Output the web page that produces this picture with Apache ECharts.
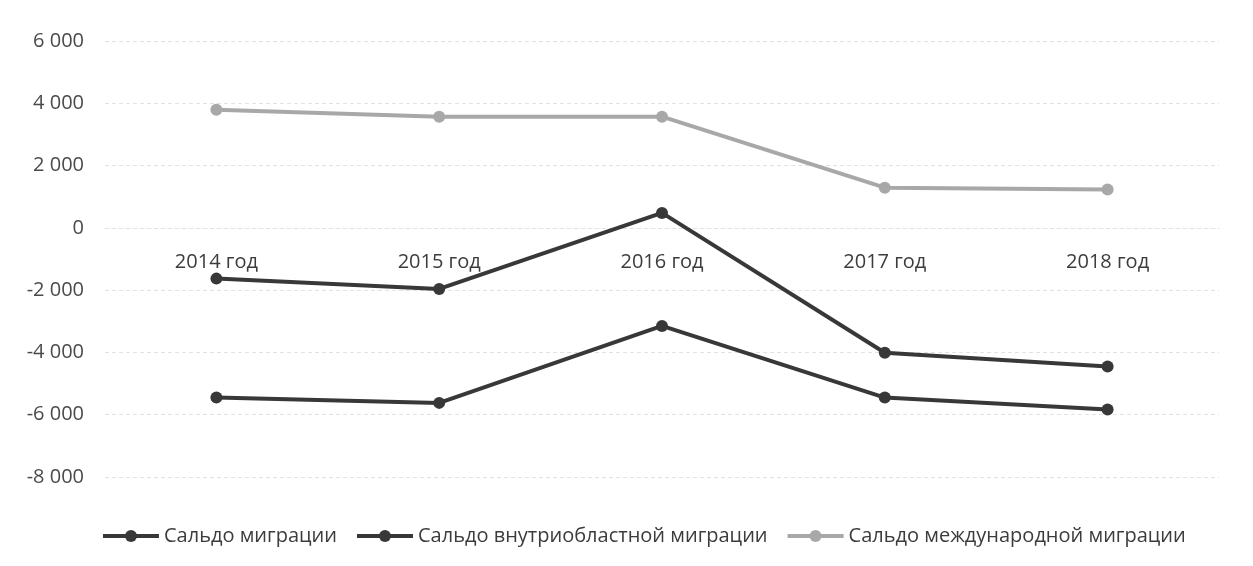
<!DOCTYPE html>
<html>
<head>
<meta charset="utf-8">
<script src="https://cdn.jsdelivr.net/npm/echarts@6/dist/echarts.min.js"></script>
<style>
    html, body {margin: 0; padding: 0; background: #fff;}
    #chart_id {width: 1253px; height: 566px;}
</style>
</head>
<body>
<div id="chart_id"></div>
<script>
//годы
var years = ['2014 год', '2015 год', '2016 год', '2017 год', '2018 год'];
//сальдо миграции
var totalValues = [-1630, -1960, 480, -4010, -4450];
//сальдо внутриобластной миграции
var internalValues = [-5450, -5620, -3150, -5450, -5830];
//сальдо международной миграции
var foreignValues = [3790, 3570, 3570, 1290, 1230];
//подписи легенды
var legendNames = ['Сальдо миграции', 'Сальдо внутриобластной миграции', 'Сальдо международной миграции'];
//шкала оси Y
var yMin = -8000, yMax = 6000, yStep = 2000;

(function () {
    var myChart = echarts.init(document.getElementById("chart_id"));
    var font = "'Open Sans', 'Noto Sans', sans-serif";
    var gridTop = 41, gridBottom = 89;
    //ось X стоит на нуле: сдвигаем её вверх от нижнего края сетки
    var gridHeight = 566 - gridTop - gridBottom;
    var zeroOffset = -gridHeight * (0 - yMin) / (yMax - yMin);
    function makeSeries(name, data, color) {
        return {
            name: name,
            type: 'line',
            data: data,
            symbol: 'circle',
            symbolSize: 12,
            lineStyle: {width: 4, color: color},
            itemStyle: {color: color},
            emphasis: {disabled: true}
        };
    }
    var option = {
        animation: false,
        textStyle: {fontFamily: font},
        grid: {left: 105, right: 34, top: gridTop, bottom: gridBottom},
        legend: {
            bottom: 15,
            left: 96,
            itemWidth: 56,
            itemHeight: 15,
            itemGap: 18,
            lineStyle: {width: 4},
            textStyle: {fontSize: 20, color: '#3c3c3c', fontFamily: font},
            data: legendNames
        },
        xAxis: {
            type: 'category',
            data: years,
            boundaryGap: true,
            offset: zeroOffset,
            axisLine: {show: true, onZero: false, lineStyle: {color: '#e2e2e2', type: [4, 3]}},
            axisTick: {show: false},
            axisLabel: {fontSize: 20, color: '#3c3c3c', margin: 24}
        },
        yAxis: {
            type: 'value',
            min: yMin,
            max: yMax,
            interval: yStep,
            axisLine: {show: false},
            axisTick: {show: false},
            splitLine: {lineStyle: {color: '#e2e2e2', type: [4, 3]}},
            axisLabel: {
                fontSize: 20,
                color: '#4a4a4a',
                margin: 21,
                formatter: function (v) {
                    var s = Math.abs(v).toString();
                    if (s.length > 3) {
                        s = s.slice(0, s.length - 3) + ' ' + s.slice(-3);
                    }
                    return (v < 0 ? '-' : '') + s;
                }
            }
        },
        series: [
            makeSeries(legendNames[0], totalValues, '#383838'),
            makeSeries(legendNames[1], internalValues, '#383838'),
            makeSeries(legendNames[2], foreignValues, '#a8a8a8')
        ]
    };
    myChart.setOption(option, true);
})();
</script>
</body>
</html>
